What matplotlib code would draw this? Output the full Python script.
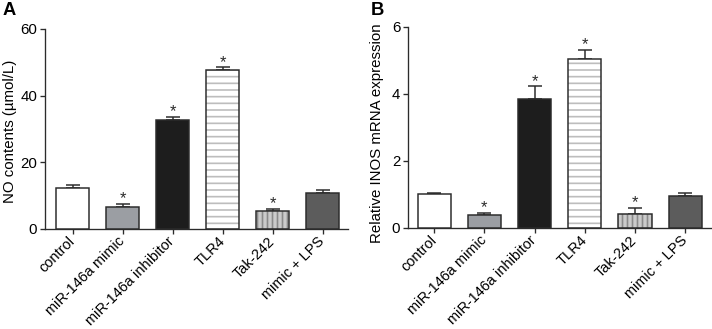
import numpy as np
import matplotlib
matplotlib.use("Agg")
import matplotlib.pyplot as plt

plt.rcParams['font.family'] = ['Liberation Sans', 'DejaVu Sans']

# --- data ---
groups = ["control", "miR-146a mimic", "miR-146a inhibitor", "TLR4", "Tak-242", "mimic + LPS"]
no_vals = [12.2, 6.6, 32.8, 47.6, 5.3, 10.7]
no_err = [1.1, 1.0, 0.9, 0.9, 0.8, 1.0]
inos_vals = [1.00, 0.39, 3.85, 5.03, 0.42, 0.95]
inos_err = [0.03, 0.06, 0.37, 0.28, 0.18, 0.10]
signif = [False, True, True, True, True, False]

fills = ["white", "#9b9ea3", "#1d1d1d", "white", "#cbcbcb", "#5c5c5c"]
hatches = [None, None, None, "---", "||||", None]
hatch_cols = [None, None, None, "#bdbdbd", "#8a8a8a", None]
dark = "#2b2b2b"

fig = plt.figure(figsize=(712 / 120, 329 / 120), dpi=120)
axA = fig.add_axes([0.0632, 0.304, 0.4256, 0.608])
axB = fig.add_axes([0.573, 0.307, 0.426, 0.612])


def draw_panel(ax, vals, errs, ymax, yticks, ylabel, xlim):
    x = np.arange(len(vals))
    for i in range(len(vals)):
        if hatches[i]:
            # hatch lines take the edge colour, so draw them on their own bar
            ax.bar(x[i], vals[i], width=0.66, color=fills[i], hatch=hatches[i],
                   edgecolor=hatch_cols[i], linewidth=0, zorder=2)
            ax.bar(x[i], vals[i], width=0.66, fill=False, edgecolor=dark,
                   linewidth=0.9, zorder=3)
        else:
            ax.bar(x[i], vals[i], width=0.66, color=fills[i], edgecolor=dark,
                   linewidth=0.9, zorder=3)
    ax.errorbar(x, vals, yerr=[np.zeros(len(errs)), errs], fmt='none',
                ecolor=dark, elinewidth=0.9, capsize=4.3, capthick=0.9, zorder=1)
    for i in range(len(vals)):
        if signif[i]:
            ax.annotate("*", (x[i], vals[i] + errs[i]), xytext=(0, 0.3),
                        textcoords="offset points", ha="center", va="baseline",
                        fontsize=10, color=dark)
    ax.set_ylim(0, ymax)
    ax.set_xlim(*xlim)
    ax.set_yticks(yticks)
    ax.set_xticks(x)
    ax.set_xticklabels(groups, rotation=45, ha="right", va="center",
                       rotation_mode="anchor", fontsize=8.7)
    ax.tick_params(axis="y", labelsize=9, length=3.2, width=0.8, color=dark, pad=1.5)
    ax.tick_params(axis="x", length=3.2, width=0.8, color=dark, pad=3)
    for s in ["top", "right"]:
        ax.spines[s].set_visible(False)
    for s in ["left", "bottom"]:
        ax.spines[s].set_linewidth(0.8)
        ax.spines[s].set_color(dark)
    ax.set_ylabel(ylabel, fontsize=9)


draw_panel(axA, no_vals, no_err, 60, [0, 20, 40, 60], "NO contents (µmol/L)", (-0.55, 5.51))
axA.yaxis.set_label_coords(-0.094, 0.49)
draw_panel(axB, inos_vals, inos_err, 6, [0, 2, 4, 6], "Relative INOS mRNA expression", (-0.52, 5.52))
axB.yaxis.set_label_coords(-0.08, 0.47)

fig.text(0.003, 0.995, "A", fontsize=11, fontweight="bold", va="top", ha="left")
fig.text(0.521, 0.995, "B", fontsize=11, fontweight="bold", va="top", ha="left")

fig.savefig("out.png", dpi=120)
